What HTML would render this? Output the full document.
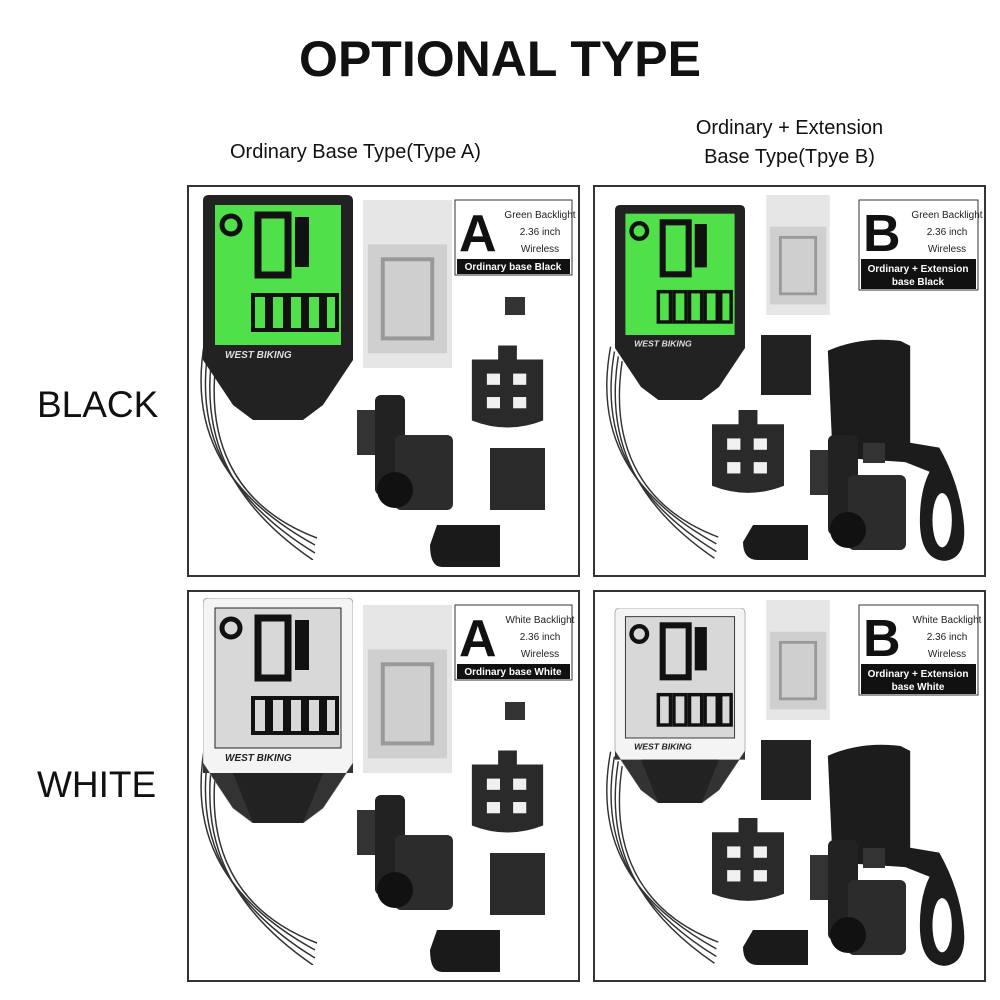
<!DOCTYPE html>
<html><head><meta charset="utf-8"><style>
body{margin:0;width:1000px;height:1000px;background:#fff;position:relative;overflow:hidden;font-family:"Liberation Sans",sans-serif}
.t{position:absolute;color:#111;white-space:nowrap}
svg.p{position:absolute;width:393px;height:392px}
</style></head><body>
<div class="t" style="left:0;width:1000px;text-align:center;top:30px;font-size:50px;font-weight:bold;">OPTIONAL TYPE</div>
<div class="t" style="left:230px;top:141px;font-size:20px;">Ordinary Base Type(Type A)</div>
<div class="t" style="left:593px;width:393px;text-align:center;top:114px;font-size:20px;line-height:29px;">Ordinary + Extension<br>Base Type(Tpye B)</div>
<div class="t" style="left:37px;top:384px;font-size:37px;">BLACK</div>
<div class="t" style="left:37px;top:764px;font-size:37px;">WHITE</div>

<svg width="0" height="0" style="position:absolute">
<defs>
<symbol id="wires" viewBox="0 0 130 220">
<g fill="none" stroke="#333" stroke-width="1.5">
<path d="M10 0 C-5 80 20 150 120 205"/><path d="M14 5 C0 85 25 155 120 213"/><path d="M18 10 C5 90 30 160 118 220"/><path d="M22 15 C10 95 35 165 122 198"/>
</g></symbol>
<symbol id="devK" viewBox="0 0 150 225">
<path d="M6 0 H144 Q150 0 150 6 V165 L120 210 L100 225 H50 L30 210 L0 165 V6 Q0 0 6 0Z" fill="#222"/>
<rect x="12" y="10" width="126" height="140" fill="#4fe04a"/>
<rect x="55" y="20" width="30" height="60" fill="none" stroke="#111" stroke-width="7"/>
<rect x="92" y="22" width="14" height="50" fill="#111"/>
<g fill="none" stroke="#111" stroke-width="4"><rect x="50" y="100" width="14" height="35"/><rect x="68" y="100" width="14" height="35"/><rect x="86" y="100" width="14" height="35"/><rect x="104" y="100" width="14" height="35"/><rect x="122" y="100" width="12" height="35"/></g>
<circle cx="28" cy="30" r="9" fill="none" stroke="#111" stroke-width="5"/>
<text x="22" y="163" font-size="10" font-style="italic" font-weight="bold" fill="#ddd">WEST BIKING</text>
</symbol>
<symbol id="devW" viewBox="0 0 150 225">
<path d="M6 0 H144 Q150 0 150 6 V165 L120 210 L100 225 H50 L30 210 L0 165 V6 Q0 0 6 0Z" fill="#f4f4f4" stroke="#aaa"/>
<path d="M0 165 L30 210 L50 225 H100 L120 210 L150 165 V175 H0Z" fill="#333"/>
<path d="M30 175 L50 225 H100 L120 175Z" fill="#222"/>
<rect x="12" y="10" width="126" height="140" fill="#d8d8d8" stroke="#222"/>
<rect x="55" y="20" width="30" height="60" fill="none" stroke="#111" stroke-width="7"/>
<rect x="92" y="22" width="14" height="50" fill="#111"/>
<g fill="none" stroke="#111" stroke-width="4"><rect x="50" y="100" width="14" height="35"/><rect x="68" y="100" width="14" height="35"/><rect x="86" y="100" width="14" height="35"/><rect x="104" y="100" width="14" height="35"/><rect x="122" y="100" width="12" height="35"/></g>
<circle cx="28" cy="30" r="9" fill="none" stroke="#111" stroke-width="5"/>
<text x="22" y="163" font-size="10" font-style="italic" font-weight="bold" fill="#222">WEST BIKING</text>
</symbol>
<symbol id="manual" viewBox="0 0 90 170">
<rect width="90" height="170" fill="#e6e6e6"/>
<rect x="5" y="45" width="80" height="110" fill="#cfcfcf"/>
<rect x="20" y="60" width="50" height="80" fill="none" stroke="#999" stroke-width="4"/>
</symbol>
<symbol id="base" viewBox="0 0 80 95">
<path d="M30 0 H50 V15 H78 V80 Q40 95 2 80 V15 H30Z" fill="#2a2a2a"/>
<g fill="#f0f0f0"><rect x="18" y="30" width="14" height="12"/><rect x="46" y="30" width="14" height="12"/><rect x="18" y="55" width="14" height="12"/><rect x="46" y="55" width="14" height="12"/></g>
</symbol>
<symbol id="sensor" viewBox="0 0 100 115">
<rect x="20" y="0" width="30" height="100" rx="6" fill="#222"/>
<rect x="2" y="15" width="18" height="45" fill="#333"/>
<rect x="40" y="40" width="58" height="75" rx="6" fill="#2c2c2c"/>
<circle cx="40" cy="95" r="18" fill="#111"/>
</symbol>
<symbol id="mount" viewBox="0 0 160 235">
<path d="M5 15 Q40 0 80 5 L90 10 V110 L120 115 Q140 150 145 190 Q150 230 125 232 Q100 230 100 190 Q100 160 110 140 L85 130 L10 125Z" fill="#1c1c1c"/>
<ellipse cx="123" cy="190" rx="10" ry="28" fill="#fff"/>
</symbol>
</defs></svg>

<!-- Panel TL -->
<svg class="p" style="left:187px;top:185px" viewBox="0 0 393 392">
<rect x="1" y="1" width="391" height="390" fill="#fff" stroke="#333" stroke-width="2"/>
<use href="#wires" x="8" y="155" width="130" height="220"/>
<use href="#devK" x="16" y="10" width="150" height="225"/>
<use href="#manual" x="176" y="13" width="89" height="172"/>
<rect x="268" y="15" width="117" height="75" fill="#fff" stroke="#333"/>
<text x="272" y="66" font-size="52" font-weight="bold" fill="#111">A</text>
<text x="353" y="33" font-size="10" text-anchor="middle" fill="#222">Green Backlight</text>
<text x="353" y="50" font-size="10" text-anchor="middle" fill="#222">2.36 inch</text>
<text x="353" y="67" font-size="10" text-anchor="middle" fill="#222">Wireless</text>
<rect x="270" y="74" width="113" height="15" fill="#111"/>
<text x="326" y="85" font-size="10" font-weight="bold" text-anchor="middle" fill="#fff">Ordinary base Black</text>
<rect x="318" y="112" width="20" height="18" fill="#333"/>
<use href="#base" x="283" y="160" width="75" height="90"/>
<rect x="303" y="263" width="55" height="62" fill="#2a2a2a"/>
<use href="#sensor" x="168" y="210" width="100" height="115"/>
<path d="M250 340 H313 V382 H255 Q243 382 243 360Z" fill="#1a1a1a"/>
</svg>

<!-- Panel TR -->
<svg class="p" style="left:593px;top:185px" viewBox="0 0 393 392">
<rect x="1" y="1" width="391" height="390" fill="#fff" stroke="#333" stroke-width="2"/>
<use href="#wires" x="8" y="160" width="125" height="215"/>
<use href="#devK" x="14" y="20" width="146" height="195"/>
<use href="#manual" x="165" y="10" width="80" height="120"/>
<rect x="266" y="15" width="119" height="90" fill="#fff" stroke="#333"/>
<text x="270" y="66" font-size="52" font-weight="bold" fill="#111">B</text>
<text x="354" y="33" font-size="10" text-anchor="middle" fill="#222">Green Backlight</text>
<text x="354" y="50" font-size="10" text-anchor="middle" fill="#222">2.36 inch</text>
<text x="354" y="67" font-size="10" text-anchor="middle" fill="#222">Wireless</text>
<rect x="268" y="74" width="115" height="30" fill="#111"/>
<text x="325" y="87" font-size="10" font-weight="bold" text-anchor="middle" fill="#fff">Ordinary + Extension</text>
<text x="325" y="100" font-size="10" font-weight="bold" text-anchor="middle" fill="#fff">base Black</text>
<rect x="168" y="150" width="50" height="60" fill="#222"/>
<use href="#mount" x="230" y="145" width="155" height="240"/>
<use href="#base" x="110" y="225" width="90" height="90"/>
<use href="#sensor" x="215" y="250" width="100" height="115"/>
<rect x="270" y="258" width="22" height="20" fill="#333"/>
<path d="M160 340 H215 V375 H165 Q150 375 150 357Z" fill="#1a1a1a"/>
</svg>

<!-- Panel BL -->
<svg class="p" style="left:187px;top:590px" viewBox="0 0 393 392">
<rect x="1" y="1" width="391" height="390" fill="#fff" stroke="#333" stroke-width="2"/>
<use href="#wires" x="8" y="155" width="130" height="220"/>
<use href="#devW" x="16" y="8" width="150" height="225"/>
<use href="#manual" x="176" y="13" width="89" height="172"/>
<rect x="268" y="15" width="117" height="75" fill="#fff" stroke="#333"/>
<text x="272" y="66" font-size="52" font-weight="bold" fill="#111">A</text>
<text x="353" y="33" font-size="10" text-anchor="middle" fill="#222">White Backlight</text>
<text x="353" y="50" font-size="10" text-anchor="middle" fill="#222">2.36 inch</text>
<text x="353" y="67" font-size="10" text-anchor="middle" fill="#222">Wireless</text>
<rect x="270" y="74" width="113" height="15" fill="#111"/>
<text x="326" y="85" font-size="10" font-weight="bold" text-anchor="middle" fill="#fff">Ordinary base White</text>
<rect x="318" y="112" width="20" height="18" fill="#333"/>
<use href="#base" x="283" y="160" width="75" height="90"/>
<rect x="303" y="263" width="55" height="62" fill="#2a2a2a"/>
<use href="#sensor" x="168" y="205" width="100" height="115"/>
<path d="M250 340 H313 V382 H255 Q243 382 243 360Z" fill="#1a1a1a"/>
</svg>

<!-- Panel BR -->
<svg class="p" style="left:593px;top:590px" viewBox="0 0 393 392">
<rect x="1" y="1" width="391" height="390" fill="#fff" stroke="#333" stroke-width="2"/>
<use href="#wires" x="8" y="160" width="125" height="215"/>
<use href="#devW" x="14" y="18" width="146" height="195"/>
<use href="#manual" x="165" y="10" width="80" height="120"/>
<rect x="266" y="15" width="119" height="90" fill="#fff" stroke="#333"/>
<text x="270" y="66" font-size="52" font-weight="bold" fill="#111">B</text>
<text x="354" y="33" font-size="10" text-anchor="middle" fill="#222">White Backlight</text>
<text x="354" y="50" font-size="10" text-anchor="middle" fill="#222">2.36 inch</text>
<text x="354" y="67" font-size="10" text-anchor="middle" fill="#222">Wireless</text>
<rect x="268" y="74" width="115" height="30" fill="#111"/>
<text x="325" y="87" font-size="10" font-weight="bold" text-anchor="middle" fill="#fff">Ordinary + Extension</text>
<text x="325" y="100" font-size="10" font-weight="bold" text-anchor="middle" fill="#fff">base White</text>
<rect x="168" y="150" width="50" height="60" fill="#222"/>
<use href="#mount" x="230" y="145" width="155" height="240"/>
<use href="#base" x="110" y="228" width="90" height="90"/>
<use href="#sensor" x="215" y="250" width="100" height="115"/>
<rect x="270" y="258" width="22" height="20" fill="#333"/>
<path d="M160 340 H215 V375 H165 Q150 375 150 357Z" fill="#1a1a1a"/>
</svg>
</body></html>
